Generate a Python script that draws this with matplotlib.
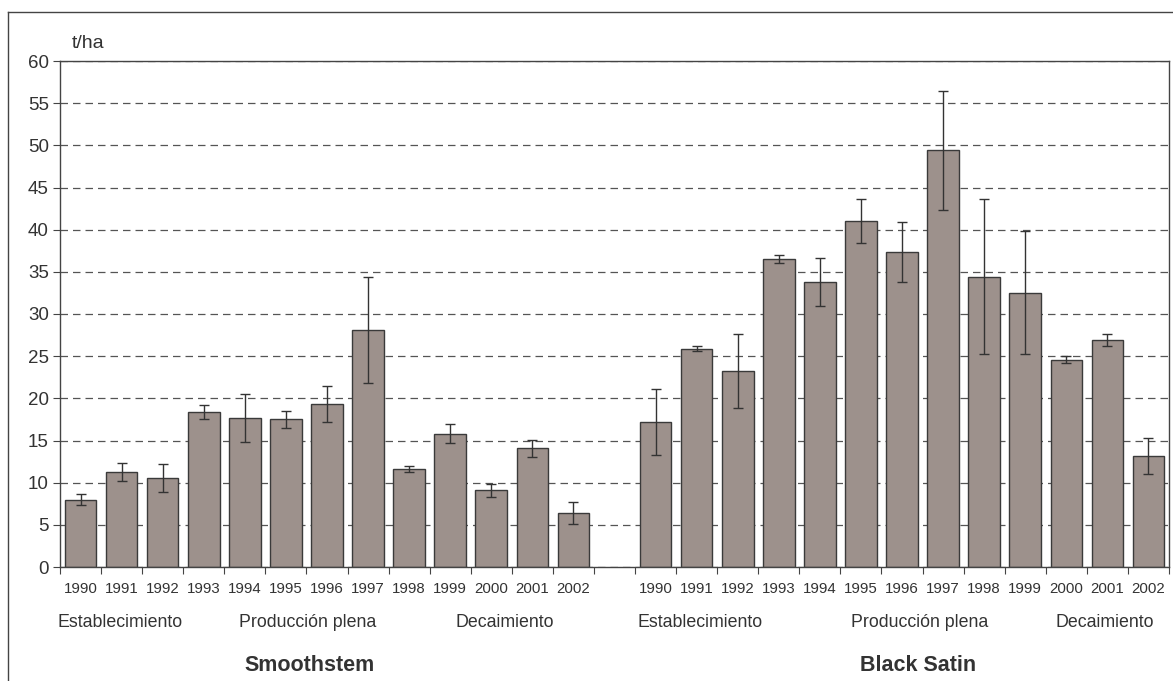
import numpy as np
import matplotlib
matplotlib.use("Agg")
import matplotlib.pyplot as plt
from matplotlib.lines import Line2D

plt.rcParams['font.family'] = ['Liberation Sans', 'DejaVu Sans']

years = ["1990", "1991", "1992", "1993", "1994", "1995", "1996",
         "1997", "1998", "1999", "2000", "2001", "2002"]

# rendimiento medio (t/ha) y error por año
smooth_mean = [8.0, 11.3, 10.6, 18.4, 17.7, 17.5, 19.3, 28.1, 11.6, 15.8, 9.1, 14.1, 6.4]
smooth_err = [0.65, 1.05, 1.65, 0.85, 2.85, 1.05, 2.15, 6.25, 0.35, 1.15, 0.8, 1.0, 1.35]
black_mean = [17.2, 25.9, 23.2, 36.5, 33.8, 41.0, 37.4, 49.4, 34.4, 32.5, 24.6, 26.9, 13.2]
black_err = [3.9, 0.3, 4.4, 0.5, 2.85, 2.6, 3.55, 7.1, 9.2, 7.3, 0.45, 0.75, 2.15]

etapas = ["Establecimiento", "Producción plena", "Decaimiento"]
variedades = ["Smoothstem", "Black Satin"]

W, H = 1173, 681
fig = plt.figure(figsize=(W / 100, H / 100), dpi=100)
ax = fig.add_axes([60 / W, 1 - 567 / H, (1169 - 60) / W, (567 - 61) / H])

x_s = np.arange(13)
x_b = np.arange(14, 27)
bar_kw = dict(width=0.77, color="#9d918c", edgecolor="#3a3a3a", linewidth=1.0, zorder=2)
err_kw = dict(ecolor="#333333", elinewidth=1.0, capsize=3.5, capthick=1.0, zorder=3)

ax.bar(x_s, smooth_mean, yerr=smooth_err, error_kw=err_kw, **bar_kw)
ax.bar(x_b, black_mean, yerr=black_err, error_kw=err_kw, **bar_kw)

ax.set_xlim(-0.5, 26.5)
ax.set_ylim(0, 60)
ax.set_yticks(np.arange(0, 61, 5))
ax.yaxis.grid(True, color="#555555", linewidth=0.9, linestyle=(0, (6, 4)), zorder=0)
ax.set_axisbelow(True)

# ticks en los bordes de cada casilla, etiquetas de año bajo cada barra
ax.set_xticks(np.arange(-0.5, 27, 1))
ax.set_xticklabels([])
ax.set_xticks(np.concatenate([x_s, x_b]), minor=True)
ax.set_xticklabels(years + years, minor=True, fontsize=10.8, color="#333333")
ax.tick_params(axis="x", which="major", length=5, color="#444444", direction="out")
ax.tick_params(axis="x", which="minor", length=0, pad=11)
ax.tick_params(axis="y", length=5, color="#444444", labelsize=13.5, labelcolor="#333333", pad=3)

for s in ax.spines.values():
    s.set_color("#444444")
    s.set_linewidth(1.0)

ax.text(0.011, 1.0257, "t/ha", transform=ax.transAxes, fontsize=14, color="#333333",
        ha="left", va="baseline")

# etapas del cultivo y nombre de variedad
tr = ax.get_xaxis_transform()
grupos = [(0, [0.96, 5.54, 10.33], 5.58), (14, [1.08, 6.42, 10.94], 6.39)]
for (x0, offs, t_off), name in zip(grupos, variedades):
    for off, et in zip(offs, etapas):
        ax.text(x0 + off, -0.109, et, transform=tr, fontsize=12.8, color="#333333",
                ha="center", va="center")
    ax.text(x0 + t_off, -0.194, name, transform=tr, fontsize=15.5, fontweight="bold",
            color="#333333", ha="center", va="center")

# marco exterior del gráfico
fig.add_artist(Line2D([8 / W, 8 / W], [0, 1 - 12 / H], transform=fig.transFigure,
                      color="#444444", linewidth=1.0))
fig.add_artist(Line2D([8 / W, 1], [1 - 12 / H, 1 - 12 / H], transform=fig.transFigure,
                      color="#444444", linewidth=1.0))

fig.savefig("out.png", dpi=100)
